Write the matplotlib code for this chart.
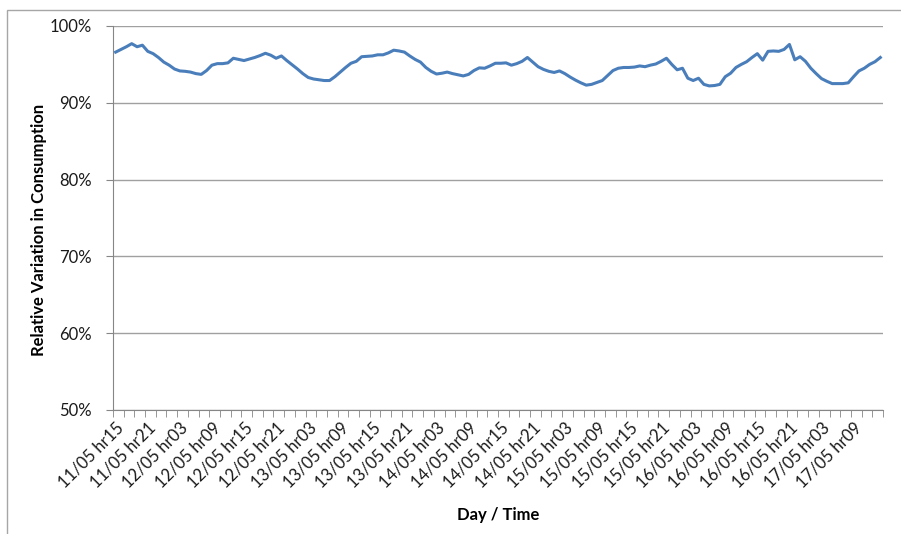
import matplotlib
matplotlib.use("Agg")
import matplotlib.pyplot as plt
from matplotlib.patches import Rectangle
from matplotlib.ticker import FixedLocator, PercentFormatter

# hourly readings, 11/05 hr15 -> 17/05 hr14 (percent)
consumption = [
    96.6, 96.95, 97.3, 97.7, 97.3, 97.5, 96.7, 96.4, 95.9, 95.3,
    94.9, 94.4, 94.15, 94.1, 94.0, 93.8, 93.7, 94.2, 94.9, 95.1,
    95.1, 95.2, 95.8, 95.65, 95.5, 95.7, 95.9, 96.15, 96.45, 96.2,
    95.8, 96.1, 95.5, 94.95, 94.4, 93.8, 93.3, 93.1, 93.0, 92.9,
    92.9, 93.4, 94.0, 94.6, 95.15, 95.4, 96.0, 96.05, 96.1, 96.25,
    96.25, 96.5, 96.85, 96.75, 96.6, 96.1, 95.65, 95.3, 94.6, 94.1,
    93.75, 93.85, 94.0, 93.8, 93.65, 93.5, 93.7, 94.2, 94.55, 94.5,
    94.8, 95.15, 95.15, 95.2, 94.9, 95.1, 95.4, 95.9, 95.3, 94.7,
    94.35, 94.1, 93.95, 94.15, 93.8, 93.35, 92.95, 92.6, 92.3, 92.4,
    92.65, 92.9, 93.55, 94.2, 94.5, 94.6, 94.6, 94.65, 94.8, 94.7,
    94.9, 95.05, 95.4, 95.8, 95.0, 94.3, 94.5, 93.2, 92.9, 93.2,
    92.4, 92.2, 92.25, 92.4, 93.4, 93.85, 94.6, 95.0, 95.35, 95.9,
    96.4, 95.55, 96.7, 96.75, 96.7, 96.95, 97.6, 95.6, 96.0, 95.4,
    94.5, 93.8, 93.15, 92.8, 92.5, 92.5, 92.5, 92.6, 93.4, 94.15,
    94.5, 95.0, 95.35, 95.9,
]
days = ["11", "12", "13", "14", "15", "16", "17"]
start_hour = 15

labels = []
for i in range(len(consumption)):
    h = start_hour + i
    labels.append("{}/05 hr{:02d}".format(days[h // 24], h % 24))

plt.rcParams['font.family'] = ['Lato', 'DejaVu Sans']

fig = plt.figure(figsize=(9.01, 5.34), dpi=100)
ax = fig.add_axes([113 / 901, 1 - 410 / 534, 770 / 901, 384 / 534])

# chart area border
fig.patches.append(Rectangle((7 / 901, -0.1), 1.0, 1 - 10 / 534 + 0.1,
                             transform=fig.transFigure, fill=False,
                             edgecolor='#a6a6a6', linewidth=1.0))

x = list(range(len(consumption)))
ax.plot(x, consumption, color='#4a7ebb', linewidth=2.2, zorder=3)

ax.set_xlim(-0.5, len(consumption) - 0.5)
ax.set_ylim(50, 100)
ax.set_yticks([50, 60, 70, 80, 90, 100])
ax.yaxis.set_major_formatter(PercentFormatter(decimals=0))
ax.grid(axis='y', color='#a0a0a0', linewidth=1.0)
ax.set_axisbelow(True)

# labels every 6 hours, tick marks every 2 hours between categories
ax.set_xticks(x[::6])
ax.set_xticklabels(labels[::6], rotation=45, ha='right', rotation_mode='anchor')
ax.xaxis.set_minor_locator(FixedLocator([k - 0.5 for k in range(0, len(consumption) + 1, 2)]))
ax.tick_params(axis='x', which='major', length=0, pad=7, labelsize=12, labelcolor='#1a1a1a')
ax.tick_params(axis='x', which='minor', length=5, color='#868686')
ax.tick_params(axis='y', length=5, color='#868686', labelsize=12, labelcolor='#1a1a1a', pad=10)

for s in ['top', 'right']:
    ax.spines[s].set_visible(False)
for s in ['left', 'bottom']:
    ax.spines[s].set_color('#868686')

ax.set_xlabel("Day / Time", fontsize=12, fontweight='bold')
ax.set_ylabel("Relative Variation in Consumption", fontsize=12, fontweight='bold')
ax.xaxis.set_label_coords(0.5, (410 - 507) / 384)
ax.yaxis.set_label_coords((47 - 113) / 770, 0.47)

fig.savefig("out.png", dpi=100)
